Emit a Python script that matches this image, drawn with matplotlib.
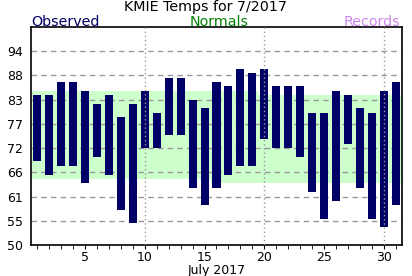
import numpy as np
import matplotlib
matplotlib.use('Agg')
from matplotlib import pyplot as plt

days = np.arange(1, 32)
obs_high = [84, 84, 87, 87, 85, 82, 84, 79, 82, 85, 80, 88, 88, 83, 81, 87,
            86, 90, 89, 90, 86, 86, 86, 80, 80, 85, 84, 81, 80, 85, 87]
obs_low = [69, 66, 68, 68, 64, 70, 66, 58, 55, 72, 72, 75, 75, 63, 59, 63,
           66, 68, 68, 74, 72, 72, 70, 62, 56, 60, 73, 63, 56, 54, 59]
norm_high = [85] * 19 + [84] * 12
norm_low = [65] * 15 + [64] * 16
yticks = [50, 55.5, 61, 66.5, 72, 77.5, 83, 88.5, 94]
ylabels = ['50', '55', '61', '66', '72', '77', '83', '88', '94']

fig = plt.figure(figsize=(4.12, 2.76), dpi=100)
ax = fig.add_axes([31/412, 1 - 245/276, 371/412, 218/276])

# normals band, one step per day
edges = np.concatenate([[0.5], days + 0.5])
ax.fill_between(edges, norm_low + [norm_low[-1]], norm_high + [norm_high[-1]],
                step='post', color='#ccffcc', lw=0, zorder=1)

for y in yticks[1:]:
    ax.axhline(y, color='#999999', ls=(0, (4, 3)), lw=1, zorder=2)
for x in [10, 20, 30]:
    ax.axvline(x, color='#999999', ls=(0, (1, 2)), lw=1, zorder=4)

ax.bar(days, np.array(obs_high) - np.array(obs_low), bottom=obs_low,
       width=0.67, color='#000066', zorder=3)

ax.set_xlim(0.5, 31.5)
ax.set_ylim(50, 99.5)
ax.set_yticks(yticks)
ax.set_yticklabels(ylabels)
ax.set_xticks([5, 10, 15, 20, 25, 30])
ax.set_xticks(days, minor=True)
ax.tick_params(axis='y', length=0, labelsize=9, pad=6)
ax.tick_params(axis='x', which='both', length=3, labelsize=9, pad=1)
ax.set_xlabel('July 2017', fontsize=9, labelpad=0)
for s in ax.spines.values():
    s.set_linewidth(1.2)

fig.text(0.5, 1 - 11/276, 'KMIE Temps for 7/2017', ha='center', va='baseline', fontsize=10.3)
fig.text(31/412, 1 - 25.5/276, 'Observed', ha='left', va='baseline', fontsize=10.3, color='#000066')
fig.text(219/412, 1 - 25.5/276, 'Normals', ha='center', va='baseline', fontsize=10.3, color='#008000')
fig.text(400/412, 1 - 25.5/276, 'Records', ha='right', va='baseline', fontsize=10.3, color='#cc88ee')

fig.savefig('out.png', dpi=100)
